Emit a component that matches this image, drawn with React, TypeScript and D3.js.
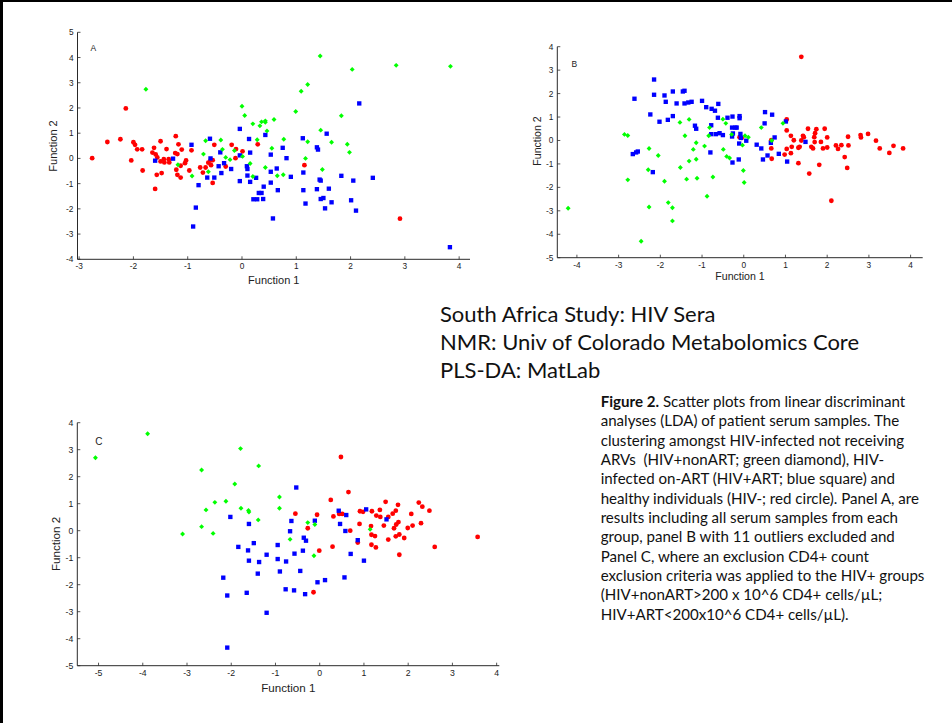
import React from "react";
import * as d3 from "d3";

type Pt = [number, number];

// Panel A: all serum samples
const healthyA: Pt[] = [
  [-2.76, 0.01], [-2.48, 0.65], [-2.24, 0.76], [-2.14, 1.98], [-2.04, -0.08], [-2.0, 0.64], [-1.97, 0.54],
  [-1.93, 0.36], [-1.84, 0.36], [-1.83, -0.48], [-1.65, 0.23], [-1.62, 0.42], [-1.59, 0.16], [-1.56, 0.04],
  [-1.6, -1.21], [-1.57, -0.65], [-1.5, 0.68], [-1.5, -0.12], [-1.48, -0.58], [-1.44, -0.03], [-1.43, -0.16],
  [-1.39, 0.37], [-1.35, -0.03], [-1.34, -0.16], [-1.22, 0.88], [-1.23, 0.21], [-1.19, 0.17], [-1.17, 0.56],
  [-1.21, -0.45], [-1.19, -0.65], [-1.13, -0.76], [-1.11, 0.35], [-1.13, -0.29], [-1.05, -0.19], [-1.03, -0.08],
  [-0.97, -0.48], [-0.93, 0.32], [-0.77, -0.36], [-0.72, -0.56], [-0.67, -0.36], [-0.62, -0.17], [-0.58, -0.08],
  [-0.57, -0.27], [-0.54, -0.07], [-0.54, -0.97], [-0.51, 0.54], [-0.3, -0.32], [-0.19, 0.54], [-0.11, 0.37],
  [-0.12, 0.01], [0.01, 0.28], [0.29, 0.56], [1.15, -0.27], [2.91, -2.39],
];
const onArtA: Pt[] = [
  [-1.6, -0.09], [-1.27, -0.01], [-0.93, 0.54], [-0.8, -1.06], [-0.85, -1.95], [-0.9, -2.7], [-0.64, -0.76],
  [-0.59, 0.78], [-0.58, 0.0], [-0.51, -0.76], [-0.43, -0.31], [-0.4, 0.24], [-0.38, -0.58], [-0.33, -0.19],
  [-0.2, -0.42], [-0.04, 1.17], [-0.04, -0.9], [-0.04, 0.12], [0.09, -0.31], [0.1, -0.42], [0.1, -0.68],
  [0.13, 0.77], [0.15, 0.23], [0.15, -0.93], [0.21, -1.62], [0.28, -1.62], [0.26, -0.77], [0.31, -1.37],
  [0.36, -1.37], [0.39, -1.61], [0.4, -1.12], [0.43, 0.93], [0.53, 0.15], [0.53, -0.53], [0.53, -0.96],
  [2.16, 2.18], [1.56, 0.98], [1.12, 0.8], [1.38, 0.44], [1.4, 0.35], [0.75, 0.42], [0.82, 0.01], [0.64, -0.4],
  [0.9, -0.73], [1.13, -0.56], [0.66, -1.26], [1.13, -1.26], [1.43, -0.84], [1.45, -0.88], [1.83, -0.69],
  [2.05, -0.88], [2.41, -0.77], [1.38, -1.22], [1.6, -1.2], [1.45, -1.61], [1.5, -1.57], [1.65, -1.74],
  [2.01, -1.66], [1.17, -1.79], [1.53, -1.98], [2.1, -2.07], [0.57, -2.38], [3.83, -3.52],
];
const nonArtA: Pt[] = [
  [-1.77, 2.74], [-1.18, -0.25], [-0.92, -0.7], [-0.71, 0.17], [-0.67, 0.7], [-0.62, -0.53], [-0.39, 0.73],
  [-0.36, 0.36], [-0.3, 0.04], [-0.22, -0.05], [-0.14, 0.31], [0.0, 2.07], [0.01, 0.08], [0.05, 1.7],
  [0.15, -0.2], [0.2, 1.37], [0.2, -0.72], [0.28, 0.74], [0.33, 1.29], [0.36, 1.45], [0.43, 1.43], [0.43, 1.49],
  [0.43, -0.36], [0.46, 1.09], [1.44, 4.06], [2.03, 3.53], [2.84, 3.69], [3.84, 3.65], [1.09, 2.66], [1.21, 2.93],
  [0.99, 1.86], [1.83, 1.69], [0.59, 1.54], [1.45, 1.12], [0.77, 0.76], [1.21, 0.66], [1.65, 0.64], [1.94, 0.56],
  [1.98, 0.24], [0.55, 0.4], [1.17, 0.0], [1.48, -0.44], [0.65, -0.69], [0.76, -0.65],
];

// Panel B: 11 outliers excluded
const healthyB: Pt[] = [
  [1.38, 3.57], [-0.1, 0.14], [-0.05, 0.11], [0.66, 0.01], [0.66, -0.34], [0.67, -0.78], [1.03, 0.9],
  [1.03, 0.43], [1.13, 0.2], [1.13, -0.54], [0.98, -0.6], [1.03, -0.36], [1.15, -0.27], [1.2, 0.01],
  [1.31, -0.97], [1.34, -0.27], [1.38, 0.0], [1.42, 0.2], [1.44, 0.14], [1.31, -0.31], [1.54, 0.5],
  [1.62, -0.27], [1.66, -0.34], [1.69, 0.14], [1.71, 0.31], [1.74, 0.48], [1.7, -0.07], [1.57, -1.41],
  [1.81, -1.04], [1.85, -0.06], [1.9, -0.34], [1.94, 0.5], [2.0, 0.13], [2.0, -0.3], [2.1, -2.57],
  [2.21, -0.21], [2.26, -0.36], [2.34, -0.2], [2.42, -0.71], [2.5, 0.16], [2.51, -0.21], [2.48, -1.17],
  [2.8, 0.23], [2.81, 0.13], [2.98, 0.28], [3.17, -0.01], [3.26, -0.34], [3.49, -0.53], [3.59, -0.23],
  [3.82, -0.34],
];
const onArtB: Pt[] = [
  [-2.62, 1.78], [-2.66, -0.58], [-2.58, -0.51], [-2.54, -0.47], [-2.24, 1.11], [-2.18, -1.35], [-2.15, 2.6],
  [-2.15, 1.95], [-2.02, 0.8], [-1.9, 1.92], [-1.87, 1.65], [-1.82, 0.88], [-1.7, 1.04], [-1.7, 2.09],
  [-1.61, 1.58], [-1.46, 2.09], [-1.42, 2.12], [-1.42, 1.58], [-1.33, 1.62], [-1.25, 1.65], [-1.17, 0.63],
  [-1.14, 0.5], [-1.0, 1.69], [-0.9, 1.42], [-0.8, -0.51], [-0.78, 0.65], [-0.77, 1.35], [-0.69, 1.27],
  [-0.78, 0.27], [-0.67, 0.27], [-0.61, 1.56], [-0.62, 0.97], [-0.58, 0.31], [-0.5, 0.23], [-0.39, 0.97],
  [-0.27, 1.02], [-0.1, 1.04], [-0.1, 0.95], [-0.28, 0.55], [-0.2, 0.55], [-0.17, 0.55], [-0.26, 0.3],
  [-0.28, 0.17], [-0.08, 0.28], [-0.11, -0.13], [-0.07, 0.11], [0.06, -0.01], [-0.27, -0.94], [-0.12, -0.81],
  [0.31, -0.18], [0.42, -0.34], [0.46, -0.81], [0.57, -0.64], [0.5, 0.73], [0.51, 1.21], [0.68, 1.1],
  [0.65, -0.1], [0.74, 0.13], [0.84, -0.57], [1.01, 0.81], [1.04, -0.9], [1.48, -0.06],
];
const nonArtB: Pt[] = [
  [-4.21, -2.89], [-2.86, 0.26], [-2.78, 0.21], [-2.78, -1.68], [-2.27, -0.34], [-2.29, -1.25], [-2.27, -2.84],
  [-2.46, -4.3], [-2.05, -0.64], [-1.9, -1.74], [-1.81, -2.65], [-1.71, -2.87], [-1.71, -3.43], [-1.53, 0.77],
  [-1.52, -1.15], [-1.41, 0.2], [-1.37, -1.65], [-1.31, 0.9], [-1.31, -0.88], [-1.21, -0.38], [-1.14, -0.1],
  [-1.14, -0.8], [-1.12, -1.61], [-0.94, -0.24], [-0.88, -2.38], [-0.84, 0.2], [-0.82, 0.55], [-0.74, -1.56],
  [-0.5, 0.91], [-0.49, -0.38], [-0.43, 0.73], [-0.41, -0.68], [-0.34, -0.75], [-0.29, 0.26], [-0.01, -1.28],
  [0.01, -1.79], [0.03, 0.2], [0.11, 0.14], [-0.03, -0.2], [0.42, 0.55], [0.67, 0.0], [0.94, 0.73],
];

// Panel C: CD4+ count exclusion applied
const healthyC: Pt[] = [
  [0.48, 2.73], [0.65, 1.43], [0.25, 1.14], [-0.55, 0.63], [-0.06, 0.59], [-0.27, 0.09], [-0.01, -0.74],
  [-0.14, -2.28], [0.29, -0.59], [0.31, 0.53], [0.44, 0.62], [0.51, 0.62], [0.69, 0.0], [0.86, -0.44],
  [0.9, 0.25], [0.91, 0.72], [0.98, 0.7], [1.18, 0.72], [1.16, 0.17], [1.17, -0.15], [1.25, -0.2],
  [1.17, -0.52], [1.27, -0.62], [1.28, 0.56], [1.36, 0.77], [1.37, 0.51], [1.45, 0.19], [1.49, 1.07],
  [1.55, -0.33], [1.55, 0.51], [1.65, 0.63], [1.68, 0.09], [1.72, 0.74], [1.72, -0.21], [1.73, 0.23],
  [1.78, 0.32], [1.77, 0.96], [1.8, -0.14], [1.8, -0.89], [1.91, -0.27], [1.99, 0.1], [2.07, 0.62],
  [2.1, 0.19], [2.24, 1.04], [2.29, 0.28], [2.32, 0.89], [2.48, 0.74], [2.6, -0.6], [3.57, -0.23],
];
const onArtC: Pt[] = [
  [-2.02, 0.51], [-1.6, 0.25], [-2.18, -1.74], [-2.09, -2.4], [-2.09, -4.33], [-1.84, -0.6], [-1.62, -0.73],
  [-1.6, -1.11], [-1.65, -2.3], [-1.49, -0.46], [-1.37, -1.16], [-1.4, -1.59], [-1.2, -0.89], [-1.2, -3.04],
  [-0.95, -0.53], [-0.95, -1.05], [-0.9, -1.51], [-0.53, 1.6], [-0.64, 0.36], [-0.67, -0.02], [-0.36, -0.26],
  [-0.31, -0.37], [-0.11, 0.37], [-0.57, -0.85], [-0.38, -0.74], [-0.76, -1.14], [-0.44, -1.49], [-0.77, -2.17],
  [-0.58, -2.21], [-0.33, -2.35], [-0.05, -1.91], [0.12, -1.83], [0.43, 0.74], [0.6, 0.58], [0.46, 0.25],
  [0.58, -0.01], [0.7, -0.86], [1.0, -1.11], [0.56, -1.73], [0.86, -0.35], [1.05, 0.79], [1.51, 0.42],
];
const nonArtC: Pt[] = [
  [-5.07, 2.7], [-3.89, 3.59], [-3.1, -0.12], [-2.67, 2.25], [-2.67, 0.15], [-2.57, 0.77], [-2.41, -0.1],
  [-2.37, 1.05], [-2.12, 1.09], [-1.92, 1.73], [-1.79, 3.04], [-1.78, 0.83], [-1.61, 0.75], [-1.6, 0.69],
  [-1.38, 2.4], [-1.39, 0.4], [-0.91, 1.25], [-0.91, 0.83], [-0.67, -0.32], [-0.27, 0.3], [-0.11, 0.23],
  [-0.13, -0.93], [1.14, 0.05],
];

const xTicksA = [-3, -2, -1, 0, 1, 2, 3, 4];
const yTicksA = [-4, -3, -2, -1, 0, 1, 2, 3, 4, 5];
const xTicksB = [-4, -3, -2, -1, 0, 1, 2, 3, 4];
const yTicksB = [-5, -4, -3, -2, -1, 0, 1, 2, 3, 4];
const xTicksC = [-5, -4, -3, -2, -1, 0, 1, 2, 3, 4];
const yTicksC = [-5, -4, -3, -2, -1, 0, 1, 2, 3, 4];

const xLabel = "Function 1";
const yLabel = "Function 2";

const titleLines = [
  "South Africa Study: HIV Sera",
  "NMR: Univ of Colorado Metabolomics Core",
  "PLS-DA: MatLab",
];
const captionHead = "Figure 2.";
const captionLines = [
  " Scatter plots from linear discriminant",
  "analyses (LDA) of patient serum samples. The",
  "clustering amongst HIV-infected not receiving",
  "ARVs  (HIV+nonART; green diamond), HIV-",
  "infected on-ART (HIV+ART; blue square) and",
  "healthy individuals (HIV-; red circle). Panel A, are",
  "results including all serum samples from each",
  "group, panel B with 11 outliers excluded and",
  "Panel C, where an exclusion CD4+ count",
  "exclusion criteria was applied to the HIV+ groups",
  "(HIV+nonART>200 x 10^6 CD4+ cells/\u00b5L;",
  "HIV+ART<200x10^6 CD4+ cells/\u00b5L).",
];

const RED = "#ff0000";
const BLUE = "#0000ff";
const GREEN = "#00ff00";
const AXIS = "#2a2a2a";
const SANS = "'Liberation Sans', Arial, sans-serif";

interface PanelSpec {
  letter: string;
  healthy: Pt[];
  onArt: Pt[];
  nonArt: Pt[];
  xDomain: [number, number];
  yDomain: [number, number];
  xRange: [number, number];
  yRange: [number, number];
  xTicks: number[];
  yTicks: number[];
  tickSize: number;
  labelSize: number;
  letterPos: [number, number];
  letterSize: number;
  xLabelY: number;
  yLabelX: number;
  yLabelCY: number;
}

const panels: PanelSpec[] = [
  {
    letter: "A", healthy: healthyA, onArt: onArtA, nonArt: nonArtA,
    xDomain: [-3.03, 4.2], yDomain: [-4, 5], xRange: [77.5, 470], yRange: [259.3, 32.3],
    xTicks: xTicksA, yTicks: yTicksA, tickSize: 8.3, labelSize: 11,
    letterPos: [90.5, 51], letterSize: 8.5, xLabelY: 284, yLabelX: 57, yLabelCY: 146,
  },
  {
    letter: "B", healthy: healthyB, onArt: onArtB, nonArt: nonArtB,
    xDomain: [-4.47, 4.29], yDomain: [-5, 4], xRange: [557.3, 922.7], yRange: [257.7, 46.7],
    xTicks: xTicksB, yTicks: yTicksB, tickSize: 8.3, labelSize: 10.6,
    letterPos: [571.5, 67], letterSize: 8.5, xLabelY: 279.5, yLabelX: 540.5, yLabelCY: 141,
  },
  {
    letter: "C", healthy: healthyC, onArt: onArtC, nonArt: nonArtC,
    xDomain: [-5.48, 4.06], yDomain: [-5, 4], xRange: [77.3, 499.3], yRange: [665.7, 422.7],
    xTicks: xTicksC, yTicks: yTicksC, tickSize: 8.7, labelSize: 11.6,
    letterPos: [95.3, 445], letterSize: 10, xLabelY: 691.5, yLabelX: 60, yLabelCY: 544,
  },
];

const squarePath = d3.symbol(d3.symbolSquare, 19)() as string;
const diamondPath = d3.symbol(d3.symbolSquare, 12)() as string;

function Panel({ spec }: { spec: PanelSpec }) {
  const x = d3.scaleLinear().domain(spec.xDomain).range(spec.xRange);
  const y = d3.scaleLinear().domain(spec.yDomain).range(spec.yRange);
  const left = spec.xRange[0];
  const bottom = spec.yRange[0];
  const tick = 3;
  const fmt = d3.format("d");
  const fmtTick = (v: number) => fmt(v).replace("\u2212", "-");
  return (
    <g>
      {spec.healthy.map((d, i) => (
        <circle key={`h${i}`} cx={x(d[0])} cy={y(d[1])} r={2.4} fill={RED} />
      ))}
      {spec.onArt.map((d, i) => (
        <path key={`o${i}`} d={squarePath} transform={`translate(${x(d[0])},${y(d[1])})`} fill={BLUE} />
      ))}
      {spec.nonArt.map((d, i) => (
        <path key={`n${i}`} d={diamondPath} transform={`translate(${x(d[0])},${y(d[1])}) rotate(45)`} fill={GREEN} />
      ))}
      <line x1={left} x2={left} y1={y(spec.yDomain[1])} y2={bottom} stroke={AXIS} strokeWidth={1} />
      <line x1={left} x2={spec.xRange[1]} y1={bottom} y2={bottom} stroke={AXIS} strokeWidth={1} />
      {spec.xTicks.map((t) => (
        <g key={`xt${t}`}>
          <line x1={x(t)} x2={x(t)} y1={bottom} y2={bottom - tick} stroke={AXIS} strokeWidth={0.8} />
          <text x={x(t)} y={bottom + spec.tickSize + 1.5} textAnchor="middle" fontSize={spec.tickSize} fontFamily={SANS} fill="#222">
            {fmtTick(t)}
          </text>
        </g>
      ))}
      {spec.yTicks.map((t) => (
        <g key={`yt${t}`}>
          <line x1={left} x2={left + tick} y1={y(t)} y2={y(t)} stroke={AXIS} strokeWidth={0.8} />
          <text x={left - 4} y={y(t) + spec.tickSize * 0.36} textAnchor="end" fontSize={spec.tickSize} fontFamily={SANS} fill="#222">
            {fmtTick(t)}
          </text>
        </g>
      ))}
      <text x={(spec.xRange[0] + spec.xRange[1]) / 2} y={spec.xLabelY} textAnchor="middle" fontSize={spec.labelSize} fontFamily={SANS} fill="#222">
        {xLabel}
      </text>
      <text transform={`translate(${spec.yLabelX},${spec.yLabelCY}) rotate(-90)`} textAnchor="middle" fontSize={spec.labelSize} fontFamily={SANS} fill="#222">
        {yLabel}
      </text>
      <text x={spec.letterPos[0]} y={spec.letterPos[1]} fontSize={spec.letterSize} fontFamily={SANS} fill="#222">
        {spec.letter}
      </text>
    </g>
  );
}

export default function App() {
  const W = 952;
  const H = 723;
  return (
    <svg
      width={W}
      height={H}
      viewBox={`0 0 ${W} ${H}`}
      style={{ position: "absolute", left: 0, top: 0, display: "block", background: "#fff" }}
    >
      <rect x={0} y={0} width={W} height={H} fill="#fff" />
      {/* slide frame */}
      <rect x={0} y={0} width={3} height={H} fill="#000" />
      <rect x={0} y={0} width={W} height={2} fill="#000" />
      {panels.map((p) => (
        <Panel key={p.letter} spec={p} />
      ))}
      <g fontFamily="Lato, 'Open Sans', sans-serif" fill="#111">
        {titleLines.map((line, i) => (
          <text key={line} x={440} y={321.7 + i * 28.3} fontSize={22}>
            {line}
          </text>
        ))}
      </g>
      <g fontFamily="Lato, 'Open Sans', sans-serif" fill="#111" fontSize={15.1}>
        {captionLines.map((line, i) => (
          <text key={i} x={600.7} y={407 + i * 19.34} xmlSpace="preserve" style={{ whiteSpace: "pre" }}>
            {i === 0 ? <tspan fontWeight="bold">{captionHead}</tspan> : null}
            {line}
          </text>
        ))}
      </g>
    </svg>
  );
}
